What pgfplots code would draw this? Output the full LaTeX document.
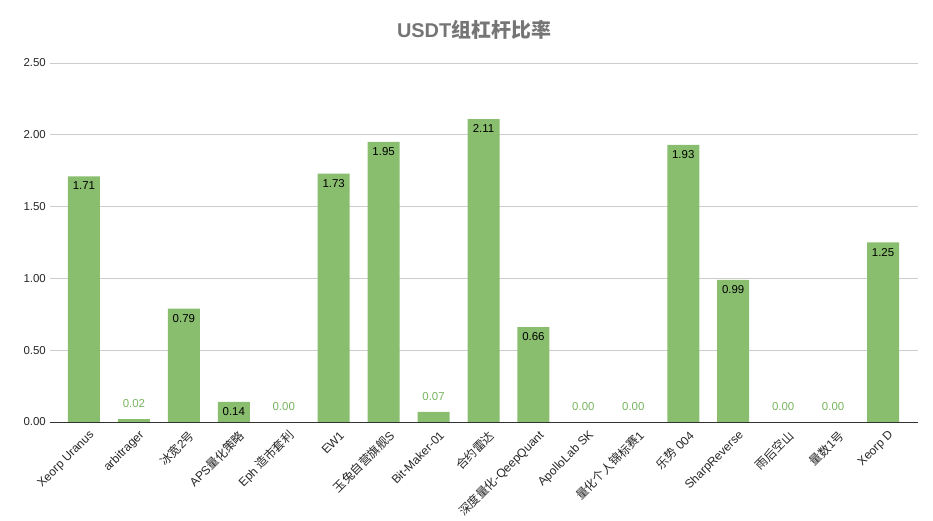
\documentclass[border=0pt]{standalone}
\usepackage{pgfplots}
\usepackage{pgfplotstable}
\pgfplotsset{compat=1.18}
\usepackage{fontspec}
\setmainfont{Liberation Sans}
\newfontfamily\cjk{Noto Sans CJK SC}
\definecolor{bargreen}{RGB}{137,190,110}
\definecolor{labgreen}{RGB}{120,180,95}
\definecolor{titlegray}{RGB}{117,117,117}
\definecolor{gridgray}{RGB}{204,204,204}

\pgfplotstableread{
x y
0 1.71
1 0.02
2 0.79
3 0.14
4 0.00
5 1.73
6 1.95
7 0.07
8 2.11
9 0.66
10 0.00
11 0.00
12 1.93
13 0.99
14 0.00
15 0.00
16 1.25
}\ratios

\begin{document}
\begin{tikzpicture}
\begin{axis}[
  width=868bp, height=359bp, scale only axis,
  xmin=-0.68, xmax=16.7, ymin=0, ymax=2.5,
  ytick={0,0.5,1,1.5,2,2.5},
  xtick={0,1,...,16},
  xticklabels={Xeorp Uranus, arbitrager, {\cjk 冰宽}2{\cjk 号}, APS{\cjk 量化策略}, Eph {\cjk 造市套利}, EW1, {\cjk 玉兔自营旗舰}S, Bit-Maker-01, {\cjk 合约雷达}, {\cjk 深度量化}-QeepQuant, ApolloLab SK, {\cjk 量化个人锦标赛}1, {\cjk 乐势} 004, SharpReverse, {\cjk 雨后空山}, {\cjk 量数}1{\cjk 号}, Xeorp D},
  xticklabel style={rotate=45, anchor=east, inner sep=1bp, font=\fontsize{12}{14}\selectfont, text=black!85, yshift=-14bp, xshift=-1bp},
  yticklabel style={font=\fontsize{11.5}{13}\selectfont, text=black!85, inner sep=2bp, xshift=-2bp},
  /pgf/number format/.cd, fixed, fixed zerofill, precision=2, assume math mode=true,
  /pgfplots/.cd,
  axis line style={draw=none},
  major tick length=0pt,
  ymajorgrids, grid style={gridgray, line width=0.8bp},
  title={{\bfseries USDT}{\cjk\bfseries 组杠杆比率}},
  title style={font=\fontsize{20}{24}\selectfont, text=titlegray, at={(0.5,1)}, anchor=south, yshift=14bp, xshift=-10bp},
  clip=false,
]
\addplot[ybar, bar width=32bp, bar shift=0pt, fill=bargreen, draw=none] table[x=x, y=y] {\ratios};
\draw[black!80, line width=1bp] (rel axis cs:0,0) -- (rel axis cs:1,0);
\addplot[ybar, bar width=32bp, bar shift=0pt, draw=none, fill=none,
  restrict y to domain=0.1:3, unbounded coords=discard,
  nodes near coords, nodes near coords style={anchor=north, yshift=-2bp, font=\fontsize{11.5}{13}\selectfont, text=black,
  /pgf/number format/.cd, fixed, fixed zerofill, precision=2, assume math mode=true}] table[x=x, y=y] {\ratios};
\addplot[ybar, bar width=32bp, bar shift=0pt, draw=none, fill=none,
  restrict y to domain=-1:0.1, unbounded coords=discard,
  nodes near coords, nodes near coords style={anchor=south, yshift=8bp, font=\fontsize{11.5}{13}\selectfont, text=labgreen,
  /pgf/number format/.cd, fixed, fixed zerofill, precision=2, assume math mode=true}] table[x=x, y=y] {\ratios};
\path ([xshift=-50bp, yshift=-99bp]rel axis cs:0,0) rectangle ([xshift=15bp, yshift=63bp]rel axis cs:1,1);
\end{axis}
\end{tikzpicture}
\end{document}
